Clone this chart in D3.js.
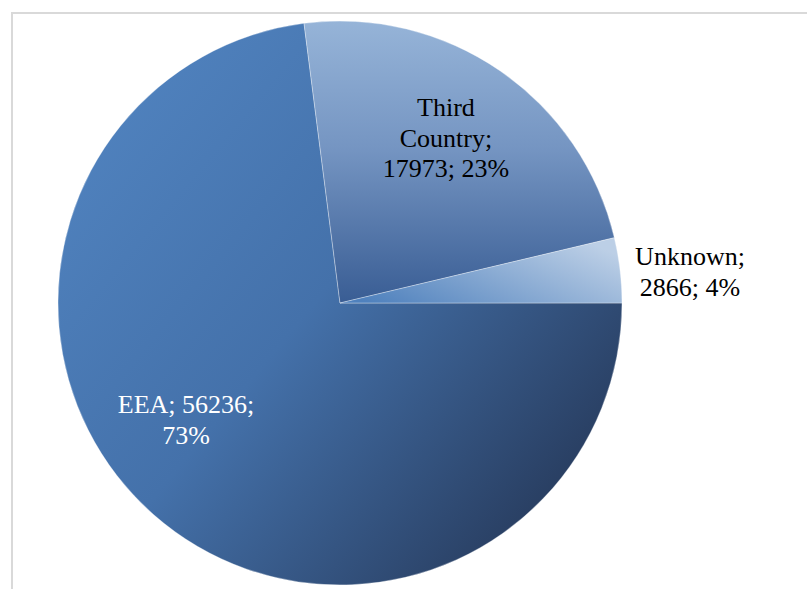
<!DOCTYPE html>
<html>
<head>
<meta charset="utf-8">
<script src="https://cdn.jsdelivr.net/npm/d3@7"></script>
<style>
  html, body { margin: 0; padding: 0; background: #fff; }
  svg { display: block; }
</style>
</head>
<body>
<svg id="chart" width="807" height="589"></svg>
<script>
// Origin of records
const categories = ["EEA", "Third Country", "Unknown"];
const counts = [56236, 17973, 2866];
const percentLabels = ["73%", "23%", "4%"];
// Label lines as written on each slice
const labelLines = [
  ["EEA; 56236;", "73%"],
  ["Third", "Country;", "17973; 23%"],
  ["Unknown;", "2866; 4%"]
];

const W = 807, H = 589;
const cx = 340, cy = 303, R = 282;

const svg = d3.select("#chart");

// Outer frame (left and top edges visible)
svg.append("path")
  .attr("d", `M12,${H} L12,13 L${W},13`)
  .attr("fill", "none")
  .attr("stroke", "#d9d9d9")
  .attr("stroke-width", 2);

// Gradients per slice
const defs = svg.append("defs");
const grads = [
  { id: "g-eea", x1: 0.1, y1: 0.15, x2: 0.95, y2: 0.85, stops: [["0%", "#4f81bd"], ["45%", "#4471aa"], ["100%", "#26395a"]] },
  { id: "g-third", x1: 0, y1: 0, x2: 0, y2: 1, stops: [["0%", "#96b4d8"], ["45%", "#7595c2"], ["100%", "#395d94"]] },
  { id: "g-unknown", x1: 0, y1: 0.8, x2: 1, y2: 0.3, stops: [["0%", "#4f81bd"], ["100%", "#bccfe6"]] }
];
grads.forEach(g => {
  const lg = defs.append("linearGradient").attr("id", g.id)
    .attr("x1", g.x1).attr("y1", g.y1).attr("x2", g.x2).attr("y2", g.y2);
  g.stops.forEach(s => lg.append("stop").attr("offset", s[0]).attr("stop-color", s[1]));
});

const data = categories.map((c, i) => ({ name: c, value: counts[i], lines: labelLines[i], grad: grads[i].id }));

// Clockwise from 3 o'clock
const pie = d3.pie().value(d => d.value).sort(null)
  .startAngle(Math.PI / 2).endAngle(Math.PI / 2 + 2 * Math.PI);
const arc = d3.arc().innerRadius(0).outerRadius(R);
const arcs = pie(data);

const g = svg.append("g").attr("transform", `translate(${cx},${cy})`);

g.selectAll("path.slice")
  .data(arcs)
  .enter().append("path")
  .attr("class", "slice")
  .attr("d", arc)
  .attr("fill", d => `url(#${d.data.grad})`)
  .attr("stroke", "rgba(255,255,255,0.55)")
  .attr("stroke-width", 0.6);

// Label placement: centre x and first baseline, relative to pie centre
const labelPos = [
  { x: 186 - cx, y: 413 - cy, color: "#ffffff" },
  { x: 446 - cx, y: 116 - cy, color: "#000000" },
  { x: 690 - cx, y: 265 - cy, color: "#000000" }
];
const lineH = 30.5;

arcs.forEach((a, i) => {
  const t = g.append("text")
    .attr("text-anchor", "middle")
    .attr("font-family", "'Liberation Serif', 'Times New Roman', serif")
    .attr("font-size", 26)
    .attr("fill", labelPos[i].color);
  a.data.lines.forEach((ln, j) => {
    t.append("tspan")
      .attr("x", labelPos[i].x)
      .attr("y", labelPos[i].y + j * lineH)
      .text(ln);
  });
});
</script>
</body>
</html>
